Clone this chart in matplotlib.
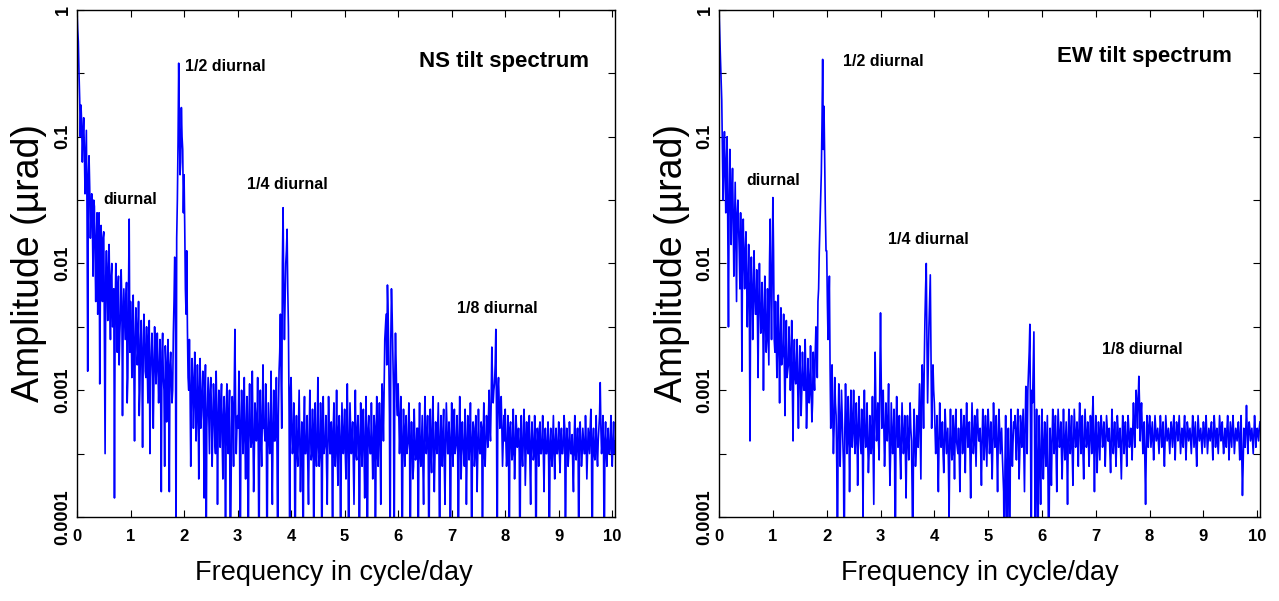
import matplotlib
matplotlib.use('Agg')
import numpy as np
import matplotlib.pyplot as plt

plt.rcParams['font.family'] = ['Liberation Sans', 'DejaVu Sans']

# === data: log10 of amplitude (µrad) ===
# *_log: samples at 0, 0.025, 0.05 ... cycle/day (one row = 0.5 cycle/day)
# *_mid: samples half-way between them (0.0125, 0.0375 ...)
f_step = 0.025

ns_log = [
    0.0, -0.25, -0.7, -0.75, -1.2, -0.85, -1.45, -0.95, -2.85, -1.15, -1.8, -1.45, -2.1, -1.55, -2.3, -1.6, -2.1, -2.95, -1.7, -2.3,
    -1.75, -3.5, -1.9, -2.45, -1.85, -2.6, -2.0, -2.35, -3.85, -2.0, -2.7, -2.1, -2.55, -2.05, -3.2, -2.2, -2.6, -2.15, -2.9, -1.65,
    -2.3, -2.9, -2.25, -3.4, -2.35, -2.8, -2.3, -3.0, -2.45, -3.45, -2.4, -2.85, -2.5, -3.1, -2.45, -2.9, -2.55, -3.3, -2.5, -2.95,
    -2.55, -3.1, -2.6, -3.8, -2.55, -3.0, -2.65, -3.25, -2.6, -3.8, -2.7, -3.1, -2.55, -1.95, -4.5, -1.5, -0.42, -1.3, -0.77, -1.1,
    -1.3, -2.2, -1.9, -2.9, -2.6, -3.6, -2.75, -3.3, -2.7, -3.4, -2.8, -3.7, -2.75, -3.2, -2.85, -3.85, -2.8, -3.3, -2.9, -3.5,
    -2.9, -3.6, -2.95, -3.4, -2.85, -3.9, -3.0, -3.45, -2.95, -3.7, -3.05, -4.5, -2.95, -3.5, -3.0, -3.95, -3.05, -3.6, -2.52, -3.5,
    -3.2, -2.85, -4.5, -3.0, -3.5, -2.9, -3.7, -3.05, -4.5, -2.95, -3.45, -2.85, -3.8, -3.1, -3.4, -2.9, -4.5, -3.0, -3.6, -2.8,
    -3.3, -2.95, -4.5, -3.1, -3.5, -2.85, -3.9, -3.0, -3.4, -2.9, -4.5, -2.85, -2.4, -3.3, -1.56, -2.6, -2.0, -1.73, -2.5, -4.5,
    -2.9, -3.5, -3.1, -4.5, -3.2, -3.6, -3.0, -3.8, -3.25, -4.5, -3.05, -3.5, -3.2, -3.9, -3.0, -3.55, -3.15, -4.5, -3.1, -3.6,
    -2.9, -3.6, -3.1, -4.5, -3.05, -3.45, -3.2, -3.9, -3.05, -3.5, -3.25, -4.5, -3.1, -3.6, -3.0, -3.75, -3.2, -4.5, -3.1, -3.5,
    -3.15, -3.7, -2.95, -4.5, -3.1, -3.5, -3.25, -3.9, -3.0, -3.55, -3.2, -4.5, -3.1, -3.6, -3.15, -3.85, -3.05, -4.5, -3.2, -3.5,
    -3.1, -3.7, -3.2, -4.5, -3.05, -3.6, -3.1, -3.9, -2.95, -3.4, -2.6, -2.4, -2.17, -2.75, -4.5, -2.2, -2.7, -4.5, -2.55, -3.1,
    -2.95, -3.5, -3.05, -4.5, -3.15, -3.6, -3.2, -3.45, -3.1, -4.5, -3.25, -3.7, -3.15, -3.55, -3.3, -4.5, -3.1, -3.6, -3.2, -3.9,
    -3.05, -3.5, -3.2, -4.5, -3.15, -3.65, -3.05, -3.8, -3.25, -3.5, -3.1, -4.5, -3.2, -3.6, -3.15, -3.9, -3.1, -3.5, -3.25, -4.5,
    -3.1, -3.6, -3.15, -3.45, -3.2, -4.5, -3.05, -3.7, -3.25, -3.5, -3.15, -3.9, -3.2, -3.55, -3.1, -4.5, -3.25, -3.6, -3.2, -3.8,
    -3.15, -3.5, -3.25, -4.5, -3.1, -3.6, -3.2, -3.45, -3.0, -3.4, -2.66, -3.1, -2.95, -2.52, -4.5, -2.9, -3.3, -3.05, -3.6, -3.2,
    -3.15, -3.6, -3.2, -4.5, -3.25, -3.55, -3.15, -3.7, -3.2, -3.45, -3.3, -4.5, -3.2, -3.6, -3.15, -3.75, -3.25, -3.5, -3.2, -3.9,
    -3.25, -3.55, -3.2, -4.5, -3.3, -3.6, -3.25, -3.5, -3.2, -3.8, -3.3, -3.5, -3.25, -4.5, -3.3, -3.6, -3.2, -3.7, -3.3, -3.5,
    -3.25, -3.65, -3.3, -3.5, -3.2, -4.5, -3.3, -3.6, -3.25, -3.5, -3.35, -3.8, -3.2, -3.55, -3.3, -4.5, -3.25, -3.6, -3.3, -3.5,
    -3.2, -3.7, -3.3, -3.5, -3.15, -4.5, -3.3, -3.55, -3.2, -3.6, -3.3, -2.94, -3.5, -3.2, -4.5, -3.25, -3.6, -3.3, -3.5, -3.2,
    -3.6, -3.25, -3.4,
]

ns_mid = [
    -0.15, -0.5, -1.0, -0.9, -1.0, -1.1, -1.2, -1.6, -1.3, -1.4, -1.6, -1.7, -1.5, -1.9, -1.8, -2.4, -1.6, -2.2, -1.9, -1.8,
    -2.6, -2.1, -2.2, -2.0, -2.3, -2.1, -2.5, -2.2, -2.4, -2.3, -2.2, -2.8, -2.4, -2.3, -2.5, -2.4, -2.3, -3.1, -2.2, -2.7,
    -2.5, -2.6, -2.8, -2.6, -2.5, -2.7, -3.2, -2.6, -2.8, -2.7, -2.6, -2.9, -2.8, -2.6, -3.5, -2.7, -2.8, -2.9, -2.7, -2.8,
    -2.8, -2.9, -3.0, -2.7, -2.9, -3.6, -2.8, -2.9, -3.0, -2.8, -2.9, -3.0, -2.3, -2.0, -1.8, -1.05, -0.9, -1.2, -1.0, -1.6,
    -1.7, -2.4, -2.5, -3.0, -3.0, -3.1, -2.9, -3.1, -3.0, -3.2, -3.1, -3.0, -3.3, -3.0, -3.2, -3.1, -4.5, -3.1, -3.2, -3.0,
    -3.2, -3.3, -3.1, -3.5, -3.2, -3.3, -3.2, -3.1, -3.4, -3.2, -3.3, -3.2, -3.4, -3.2, -4.5, -3.3, -3.2, -3.0, -3.1, -3.3,
    -3.3, -3.4, -3.3, -3.2, -3.3, -3.4, -3.3, -3.5, -3.2, -3.3, -3.4, -3.3, -3.5, -3.2, -3.3, -3.5, -3.3, -3.4, -3.2, -3.3,
    -3.4, -3.3, -3.5, -3.3, -3.4, -3.5, -3.3, -3.4, -3.3, -3.5, -3.2, -2.7, -2.9, -2.0, -2.2, -2.3, -1.9, -2.2, -3.2, -3.0,
    -3.3, -3.4, -3.5, -3.4, -3.5, -3.3, -3.4, -3.5, -3.4, -3.3, -3.5, -3.4, -3.6, -3.4, -3.3, -3.5, -3.4, -3.3, -3.5, -3.4,
    -3.4, -3.5, -3.3, -3.4, -3.5, -3.4, -3.6, -3.4, -3.3, -3.5, -3.4, -3.3, -3.5, -3.4, -3.5, -3.3, -3.4, -3.5, -3.3, -3.4,
    -3.5, -3.3, -3.4, -3.5, -3.3, -3.4, -3.6, -3.4, -3.5, -3.3, -3.4, -3.5, -3.4, -3.3, -3.5, -3.4, -3.6, -3.3, -3.4, -3.5,
    -3.4, -3.5, -3.3, -3.4, -3.5, -3.3, -3.4, -3.2, -3.1, -3.0, -2.5, -2.8, -2.4, -3.2, -2.6, -2.4, -3.0, -2.9, -2.8, -3.2,
    -3.2, -3.3, -3.4, -3.5, -3.4, -3.3, -3.5, -3.4, -3.3, -3.5, -3.4, -3.6, -3.4, -3.5, -3.3, -3.4, -3.5, -3.4, -3.6, -3.4,
    -3.3, -3.4, -3.5, -3.4, -3.5, -3.3, -3.4, -3.5, -3.4, -3.3, -3.5, -3.4, -3.5, -3.3, -3.6, -3.4, -3.3, -3.5, -3.4, -3.5,
    -3.4, -3.3, -3.5, -3.4, -3.5, -3.4, -3.3, -3.5, -3.4, -3.6, -3.4, -3.5, -3.3, -3.4, -3.5, -3.4, -3.3, -3.5, -3.4, -3.5,
    -3.4, -3.5, -3.3, -3.4, -3.5, -3.4, -3.3, -3.2, -3.3, -3.1, -2.9, -3.0, -2.8, -3.2, -3.0, -3.1, -3.2, -3.3, -3.4, -3.4,
    -3.4, -3.5, -3.4, -3.3, -3.4, -3.5, -3.4, -3.5, -3.3, -3.4, -3.5, -3.4, -3.5, -3.4, -3.3, -3.5, -3.4, -3.5, -3.6, -3.4,
    -3.4, -3.5, -3.4, -3.5, -3.4, -3.3, -3.5, -3.4, -3.5, -3.4, -3.5, -3.4, -3.6, -3.4, -3.5, -3.4, -3.5, -3.4, -3.5, -3.4,
    -3.5, -3.4, -3.5, -3.4, -3.3, -3.5, -3.4, -3.5, -3.4, -3.5, -3.6, -3.4, -3.5, -3.4, -3.5, -3.3, -3.4, -3.5, -3.4, -3.5,
    -3.4, -3.5, -3.4, -3.3, -3.5, -3.4, -3.5, -3.4, -3.5, -3.4, -3.2, -3.3, -3.4, -3.5, -3.4, -3.5, -3.4, -3.5, -3.4, -3.5,
    -3.4, -3.5,
]

ew_log = [
    0.0, -0.37, -0.71, -1.5, -0.96, -1.6, -1.0, -2.5, -1.1, -1.85, -1.25, -2.1, -1.36, -2.3, -1.5, -1.9, -1.6, -2.85, -1.65, -2.2,
    -1.75, -2.5, -1.85, -3.4, -1.95, -2.6, -1.9, -2.4, -2.05, -2.9, -2.0, -2.55, -2.15, -3.0, -2.1, -2.7, -2.2, -2.8, -1.65, -2.6,
    -1.48, -2.6, -2.3, -2.9, -2.25, -3.1, -2.35, -2.75, -2.4, -3.2, -2.45, -2.85, -2.5, -3.0, -2.45, -3.4, -2.6, -2.95, -2.6, -3.3,
    -2.65, -3.2, -2.7, -3.0, -2.6, -3.3, -2.75, -3.1, -2.65, -3.25, -2.7, -3.0, -2.5, -2.9, -2.2, -1.7, -1.29, -0.39, -0.76, -1.6,
    -1.9, -2.6, -2.1, -3.3, -2.8, -3.5, -2.9, -3.2, -4.5, -2.95, -3.6, -3.0, -3.4, -4.5, -2.95, -3.5, -3.05, -3.8, -3.0, -3.45,
    -3.0, -3.5, -3.1, -3.75, -3.05, -3.4, -3.15, -4.0, -3.0, -3.45, -3.1, -3.65, -3.2, -3.5, -3.05, -3.9, -2.7, -3.4, -3.1, -3.55,
    -2.39, -3.3, -3.0, -3.6, -3.1, -3.4, -2.95, -3.75, -3.1, -3.5, -3.15, -4.5, -3.05, -3.45, -3.2, -3.7, -3.1, -3.5, -3.2, -3.85,
    -3.2, -3.55, -3.1, -3.4, -4.5, -3.15, -3.6, -3.2, -3.45, -2.95, -3.7, -2.8, -3.3, -2.45, -2.0, -3.1, -2.5, -2.09, -3.3, -2.8,
    -3.1, -3.5, -3.2, -3.8, -3.1, -3.45, -3.25, -3.65, -3.15, -3.5, -3.3, -4.0, -3.15, -3.55, -3.2, -3.7, -3.15, -3.45, -3.3, -3.8,
    -3.15, -3.5, -3.2, -3.65, -3.1, -3.45, -3.25, -3.85, -3.1, -3.5, -3.2, -3.6, -3.15, -3.4, -3.3, -3.75, -3.15, -3.55, -3.2, -3.6,
    -3.15, -3.5, -3.25, -3.7, -3.1, -3.45, -3.2, -3.8, -3.15, -3.5, -3.3, -3.65, -4.5, -3.2, -4.5, -3.3, -4.5, -3.15, -3.6, -3.25,
    -3.2, -3.55, -3.15, -3.7, -3.2, -3.45, -3.15, -3.8, -2.97, -3.5, -2.85, -2.48, -4.5, -3.1, -2.54, -4.5, -3.15, -4.5, -3.2, -3.9,
    -3.15, -3.7, -3.25, -3.6, -3.2, -4.5, -3.3, -3.75, -3.15, -3.5, -3.2, -3.8, -3.15, -3.45, -3.25, -3.7, -3.15, -3.55, -3.25, -3.9,
    -3.15, -3.5, -3.2, -3.75, -3.15, -3.45, -3.25, -3.6, -3.1, -3.5, -3.2, -3.7, -3.15, -3.45, -3.25, -3.6, -3.2, -3.5, -3.05, -3.8,
    -3.2, -3.65, -3.25, -3.55, -3.2, -3.45, -3.25, -3.6, -3.2, -3.4, -3.3, -3.65, -3.15, -3.5, -3.25, -3.6, -3.2, -3.45, -3.3, -3.7,
    -3.2, -3.5, -3.25, -3.6, -3.2, -3.45, -3.3, -3.55, -3.1, -3.45, -3.0, -3.3, -2.89, -3.4, -3.1, -3.5, -3.25, -3.9, -3.2, -3.45,
    -3.2, -3.45, -3.25, -3.55, -3.2, -3.4, -3.3, -3.5, -3.2, -3.45, -3.25, -3.6, -3.2, -3.4, -3.3, -3.5, -3.25, -3.45, -3.2, -3.55,
    -3.25, -3.4, -3.2, -3.5, -3.3, -3.45, -3.2, -3.55, -3.25, -3.4, -3.3, -3.5, -3.2, -3.45, -3.25, -3.6, -3.2, -3.4, -3.3, -3.5,
    -3.25, -3.45, -3.2, -3.5, -3.3, -3.4, -3.25, -3.55, -3.2, -3.45, -3.3, -3.5, -3.2, -3.4, -3.25, -3.5, -3.3, -3.45, -3.2, -3.55,
    -3.25, -3.45, -3.2, -3.5, -3.3, -3.4, -3.25, -3.55, -3.2, -3.83, -3.3, -3.45, -3.12, -3.5, -3.25, -3.4, -3.3, -3.5, -3.2, -3.45,
    -3.3, -3.4, -3.25,
]

ew_mid = [
    -0.2, -0.55, -1.1, -1.2, -1.3, -1.2, -1.7, -1.5, -1.4, -1.5, -1.6, -1.7, -1.8, -1.6, -1.7, -2.2, -1.9, -1.8, -2.0, -1.9,
    -2.1, -2.2, -2.3, -2.2, -2.2, -2.3, -2.2, -2.4, -2.4, -2.3, -2.3, -2.5, -2.4, -2.5, -2.4, -2.6, -2.5, -2.0, -2.2, -2.1,
    -1.9, -2.7, -2.6, -2.6, -2.7, -2.6, -2.8, -2.7, -2.8, -2.7, -2.9, -2.8, -2.7, -2.8, -3.0, -2.8, -2.9, -2.8, -3.0, -2.9,
    -2.9, -3.0, -2.9, -3.0, -2.9, -3.1, -2.9, -3.0, -3.0, -3.1, -2.9, -2.7, -2.6, -2.3, -1.9, -1.5, -0.9, -1.1, -1.2, -1.9,
    -2.3, -2.4, -2.8, -3.1, -3.2, -3.3, -3.1, -3.6, -3.3, -3.2, -3.3, -3.2, -3.6, -3.3, -3.2, -3.4, -3.3, -3.4, -3.2, -3.3,
    -3.3, -3.4, -3.3, -3.4, -3.3, -3.5, -3.4, -3.3, -3.3, -3.4, -3.4, -3.5, -3.3, -3.4, -3.5, -3.2, -3.1, -3.3, -3.4, -2.9,
    -2.9, -3.2, -3.3, -3.4, -3.3, -3.2, -3.4, -3.5, -3.3, -3.4, -3.6, -3.3, -3.3, -3.4, -3.5, -3.4, -3.3, -3.4, -3.5, -3.4,
    -3.4, -3.3, -3.3, -3.8, -3.4, -3.4, -3.5, -3.3, -3.2, -3.3, -3.0, -3.0, -2.8, -2.2, -2.6, -2.8, -2.3, -2.7, -3.0, -3.0,
    -3.3, -3.4, -3.5, -3.4, -3.3, -3.4, -3.5, -3.4, -3.3, -3.4, -3.6, -3.4, -3.4, -3.5, -3.4, -3.3, -3.4, -3.5, -3.5, -3.4,
    -3.3, -3.4, -3.4, -3.3, -3.3, -3.4, -3.5, -3.4, -3.3, -3.4, -3.4, -3.3, -3.3, -3.4, -3.5, -3.4, -3.3, -3.4, -3.4, -3.3,
    -3.3, -3.4, -3.5, -3.4, -3.3, -3.4, -3.5, -3.4, -3.3, -3.4, -3.5, -3.8, -3.6, -3.7, -3.6, -3.8, -3.5, -3.4, -3.4, -3.3,
    -3.4, -3.3, -3.4, -3.5, -3.3, -3.3, -3.5, -3.3, -3.2, -3.0, -2.7, -3.3, -3.0, -2.8, -3.3, -3.6, -3.7, -3.5, -3.6, -3.5,
    -3.4, -3.5, -3.4, -3.4, -3.7, -3.8, -3.5, -3.4, -3.3, -3.4, -3.5, -3.4, -3.3, -3.4, -3.5, -3.4, -3.4, -3.4, -3.5, -3.4,
    -3.3, -3.4, -3.5, -3.4, -3.3, -3.4, -3.4, -3.3, -3.3, -3.4, -3.5, -3.4, -3.3, -3.4, -3.4, -3.4, -3.3, -3.2, -3.4, -3.4,
    -3.4, -3.4, -3.4, -3.3, -3.3, -3.4, -3.4, -3.4, -3.3, -3.4, -3.5, -3.4, -3.3, -3.4, -3.4, -3.4, -3.3, -3.4, -3.5, -3.4,
    -3.3, -3.4, -3.4, -3.4, -3.3, -3.4, -3.4, -3.3, -3.3, -3.2, -3.1, -3.1, -3.1, -3.2, -3.3, -3.4, -3.6, -3.5, -3.3, -3.3,
    -3.3, -3.35, -3.4, -3.4, -3.3, -3.35, -3.4, -3.35, -3.3, -3.4, -3.45, -3.4, -3.3, -3.35, -3.4, -3.35, -3.35, -3.3, -3.4, -3.35,
    -3.3, -3.3, -3.35, -3.4, -3.4, -3.3, -3.35, -3.4, -3.3, -3.35, -3.4, -3.35, -3.3, -3.35, -3.45, -3.4, -3.3, -3.35, -3.4, -3.35,
    -3.35, -3.3, -3.35, -3.4, -3.35, -3.3, -3.4, -3.35, -3.3, -3.35, -3.4, -3.35, -3.3, -3.35, -3.4, -3.4, -3.35, -3.3, -3.35, -3.4,
    -3.35, -3.3, -3.35, -3.4, -3.35, -3.3, -3.4, -3.35, -3.5, -3.6, -3.35, -3.3, -3.3, -3.35, -3.3, -3.35, -3.4, -3.35, -3.3, -3.35,
    -3.35, -3.3,
]

# labels (text, x in cycle/day, amplitude)
ns_notes = [("1/2 diurnal", 2.02, 0.36), ("diurnal", 0.5, 0.032),
            ("1/4 diurnal", 3.18, 0.042), ("1/8 diurnal", 7.1, 0.0044)]
ew_notes = [("1/2 diurnal", 2.3, 0.39), ("diurnal", 0.5, 0.045),
            ("1/4 diurnal", 3.13, 0.0155), ("1/8 diurnal", 7.11, 0.0021)]
titles = [("NS tilt spectrum", 6.39, 0.39), ("EW tilt spectrum", 6.28, 0.43)]

x_ticks = list(range(11))
y_ticks = [1e-4, 10**-3.5, 1e-3, 10**-2.5, 1e-2, 10**-1.5, 0.1, 10**-0.5, 1]
y_labels = ["0.0001", "", "0.001", "", "0.01", "", "0.1", "", "1"]


def merge(main, mid):
    # put the half-step samples between the main ones
    out = np.empty(len(main) + len(mid))
    out[0::2] = main
    out[1::2] = mid
    return out


# === figure ===
fig = plt.figure(figsize=(12.79, 6.01), dpi=100)
ax_ns = fig.add_axes([0.0602, 0.1398, 0.4206, 0.8436])
ax_ew = fig.add_axes([0.5622, 0.1398, 0.4229, 0.8436])

panels = [(ax_ns, ns_log, ns_mid, ns_notes, titles[0], 0.478),
          (ax_ew, ew_log, ew_mid, ew_notes, titles[1], 0.482)]
for ax, logs, mids, notes, title, xlab_pos in panels:
    amp = 10.0 ** merge(logs, mids)
    freq = np.arange(len(amp)) * (f_step / 2)
    ax.plot(freq, amp, color="#0000ff", lw=1.2)

    ax.set_yscale("log")
    ax.set_xlim(0, 10.05)
    ax.set_ylim(1e-4, 1)

    ax.set_xticks(x_ticks)
    ax.set_xticklabels([str(t) for t in x_ticks], fontsize=12, fontweight="bold")
    ax.set_yticks(y_ticks)
    ax.set_yticklabels(y_labels, fontsize=13, fontweight="bold", rotation=90, va="center")
    ax.minorticks_off()
    ax.tick_params(direction="in", top=True, right=True, length=5, width=0.8)
    ax.tick_params(axis="x", pad=9)
    ax.tick_params(axis="y", pad=4)
    for sp in ax.spines.values():
        sp.set_linewidth(1.0)

    ax.set_xlabel("Frequency in cycle/day", fontsize=19.5)
    ax.xaxis.set_label_coords(xlab_pos, -0.085)
    ax.set_ylabel("Amplitude (\u00b5rad)", fontsize=27, labelpad=5)

    for txt, x, y in notes:
        ax.text(x, y, txt, fontsize=11.5, fontweight="bold", ha="left", va="center")
    ax.text(title[1], title[2], title[0], fontsize=16, fontweight="bold",
            ha="left", va="center")

fig.savefig("out.png", dpi=100)
